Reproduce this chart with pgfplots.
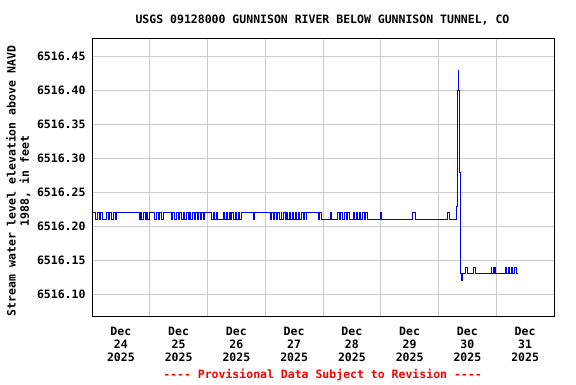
\documentclass[border=0pt]{standalone}
\usepackage{pgfplots}
\pgfplotsset{compat=1.18}
\usepackage{pgfplotstable}
\usepackage{fontspec}
\setmainfont{DejaVu Sans Mono}[Ligatures=TeXOff]
\definecolor{gridgray}{RGB}{204,204,204}
\pgfplotstableread{
h y
0.29 6516.22
1.37 6516.21
2.08 6516.22
2.91 6516.21
3.74 6516.22
4.57 6516.21
5.82 6516.22
6.65 6516.21
7.48 6516.22
8.31 6516.21
9.14 6516.22
9.76 6516.21
10.18 6516.22
19.66 6516.21
20.16 6516.22
20.57 6516.21
21.32 6516.22
22.03 6516.21
22.57 6516.22
23.07 6516.21
23.81 6516.22
26.18 6516.21
26.81 6516.22
27.43 6516.21
28.05 6516.22
28.68 6516.21
29.63 6516.22
33.12 6516.21
33.66 6516.22
34.29 6516.21
34.91 6516.22
35.74 6516.21
36.16 6516.22
36.99 6516.21
37.82 6516.22
38.44 6516.21
39.07 6516.22
39.90 6516.21
40.52 6516.22
41.14 6516.21
41.77 6516.22
42.39 6516.21
43.01 6516.22
43.64 6516.21
44.26 6516.22
45.09 6516.21
45.71 6516.22
46.34 6516.21
46.96 6516.22
49.75 6516.21
50.29 6516.22
50.91 6516.21
51.54 6516.22
51.95 6516.21
54.57 6516.22
55.07 6516.21
55.69 6516.22
56.11 6516.21
56.94 6516.22
57.56 6516.21
58.18 6516.22
58.81 6516.21
59.43 6516.22
60.05 6516.21
60.68 6516.22
61.30 6516.21
62.20 6516.22
67.04 6516.21
67.33 6516.22
73.98 6516.21
74.60 6516.22
75.22 6516.21
75.85 6516.22
76.47 6516.21
77.09 6516.22
77.72 6516.21
78.55 6516.22
78.96 6516.21
79.59 6516.22
80.21 6516.21
80.63 6516.22
81.25 6516.21
81.87 6516.22
82.50 6516.21
83.12 6516.22
83.74 6516.21
84.37 6516.22
84.99 6516.21
85.61 6516.22
86.44 6516.21
87.07 6516.22
87.69 6516.21
88.31 6516.22
88.94 6516.21
89.23 6516.22
94.05 6516.21
94.55 6516.22
95.17 6516.21
98.91 6516.22
99.62 6516.21
102.11 6516.22
102.73 6516.21
103.36 6516.22
104.19 6516.21
105.02 6516.22
105.64 6516.21
106.26 6516.22
107.09 6516.21
108.47 6516.22
109.09 6516.21
109.72 6516.22
110.34 6516.21
110.96 6516.22
111.79 6516.21
112.42 6516.22
113.04 6516.21
113.66 6516.22
114.29 6516.21
119.69 6516.22
120.11 6516.21
133.28 6516.22
134.24 6516.21
147.83 6516.22
148.66 6516.21
151.57 6516.23
151.82 6516.36
152.03 6516.40
152.24 6516.43
152.40 6516.40
152.65 6516.36
152.82 6516.28
153.23 6516.13
153.56 6516.12
153.90 6516.13
155.26 6516.14
156.09 6516.13
158.42 6516.14
159.42 6516.13
165.82 6516.14
166.23 6516.13
166.65 6516.14
167.27 6516.13
167.48 6516.14
167.77 6516.13
171.64 6516.14
172.27 6516.13
172.89 6516.14
173.52 6516.13
174.14 6516.14
174.76 6516.13
175.39 6516.14
176.51 6516.13
177.17 6516.13
}\stage
\begin{document}
\begin{tikzpicture}[x=1pt,y=1pt]
\useasboundingbox (0,0) rectangle (576,384);
\begin{axis}[
  at={(92pt,68pt)}, anchor=south west,
  scale only axis, width=462pt, height=277pt,
  xmin=0, xmax=192,
  ymin=6516.068, ymax=6516.476,
  xtick={12,36,60,84,108,132,156,180},
  xticklabels={{Dec\\24\\2025},{Dec\\25\\2025},{Dec\\26\\2025},{Dec\\27\\2025},{Dec\\28\\2025},{Dec\\29\\2025},{Dec\\30\\2025},{Dec\\31\\2025}},
  minor xtick={24,48,72,96,120,144,168},
  xminorgrids=true, xmajorgrids=false,
  ytick={6516.10,6516.15,6516.20,6516.25,6516.30,6516.35,6516.40,6516.45},
  ymajorgrids=true,
  grid style={gridgray, line width=1pt},
  minor grid style={gridgray, line width=1pt},
  major tick length=0pt, minor tick length=0pt,
  axis line style={black, line width=1pt},
  /pgf/number format/assume math mode=true,
  yticklabel={\pgfmathprintnumber[fixed,fixed zerofill,precision=2,1000 sep={}]{\tick}},
  ticklabel style={font=\fontsize{11.5}{12.8}\selectfont\bfseries},
  xticklabel style={align=center, yshift=-7.5pt},
  yticklabel style={xshift=-3pt},
  clip=false,
]
\addplot[const plot, color={rgb,255:red,0;green,0;blue,255}, line width=1pt] table[x=h, y=y] {\stage};
\end{axis}
\node[font=\fontsize{11.5}{12.8}\selectfont\bfseries] at (322.5,364) {USGS 09128000 GUNNISON RIVER BELOW GUNNISON TUNNEL, CO};
\node[rotate=90, align=center, font=\fontsize{11.5}{13.3}\selectfont\bfseries] at (18.3,203) {Stream water level elevation above NAVD\\1988, in feet};
\node[text=red, font=\fontsize{11.5}{12.8}\selectfont\bfseries] at (322.5,9) {---- Provisional Data Subject to Revision ----};
\end{tikzpicture}
\end{document}
